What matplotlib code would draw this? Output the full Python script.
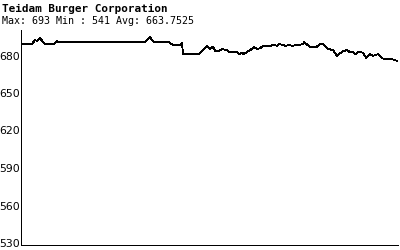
import matplotlib
matplotlib.use("Agg")
import matplotlib.pyplot as plt

title = "Teidam Burger Corporation"
subtitle = "Max: 693 Min : 541 Avg: 663.7525"

# day offsets and closing prices
days = [0, 10, 13, 15, 18, 23, 32, 35, 36, 123, 128, 132, 147, 151, 158, 160,
        161, 177, 185, 188, 191, 193, 196, 200, 205, 207, 215, 217, 220, 222,
        225, 228, 232, 235, 238, 241, 248, 251, 255, 257, 261, 264, 266, 270,
        281, 282, 288, 294, 298, 301, 306, 311, 315, 320, 325, 328, 331, 333,
        337, 341, 344, 348, 351, 356, 360, 364, 370, 375]
prices = [689.2, 689.2, 692.4, 691.6, 693.8, 689.2, 689.2, 691.8, 691.0, 690.8,
          694.6, 690.6, 690.6, 688.4, 688.6, 690.0, 681.2, 681.2, 687.6, 685.2,
          687.0, 683.8, 683.6, 685.0, 684.4, 682.6, 682.6, 681.0, 682.2, 681.0,
          683.0, 684.2, 686.6, 685.2, 685.8, 687.6, 687.6, 688.4, 687.8, 689.2,
          688.4, 687.6, 688.4, 687.8, 689.0, 691.0, 686.6, 686.6, 689.0, 689.0,
          685.2, 684.4, 679.8, 683.0, 684.4, 682.6, 683.0, 681.0, 683.0, 682.2,
          678.2, 681.0, 679.8, 681.0, 677.8, 677.0, 677.0, 675.8]
yticks = [530, 560, 590, 620, 650, 680]

fig = plt.figure(figsize=(4, 2.5), dpi=100)
ax = fig.add_axes([0.0525, 0.02, 0.9425, 0.86])

ax.plot(days, prices, color="black", linewidth=0.6, antialiased=False)
ax.set_xlim(-1, 376)
ax.set_ylim(528.4, 700.4)

ax.spines["top"].set_visible(False)
ax.spines["right"].set_visible(False)
for s in ("left", "bottom"):
    ax.spines[s].set_linewidth(0.72)
    ax.spines[s].set_antialiased(False)

ax.set_xticks([])
ax.set_yticks(yticks)
ax.set_yticklabels([str(v) for v in yticks], fontsize=7.8, family="DejaVu Sans")
ax.tick_params(axis="y", length=0, pad=1)

fig.text(0.005, 0.966, title, fontsize=7.9, fontweight="bold",
         family="DejaVu Sans Mono", va="center", ha="left")
fig.text(0.005, 0.914, subtitle, fontsize=7.2,
         family="DejaVu Sans Mono", va="center", ha="left")

fig.savefig("out.png", dpi=100)
